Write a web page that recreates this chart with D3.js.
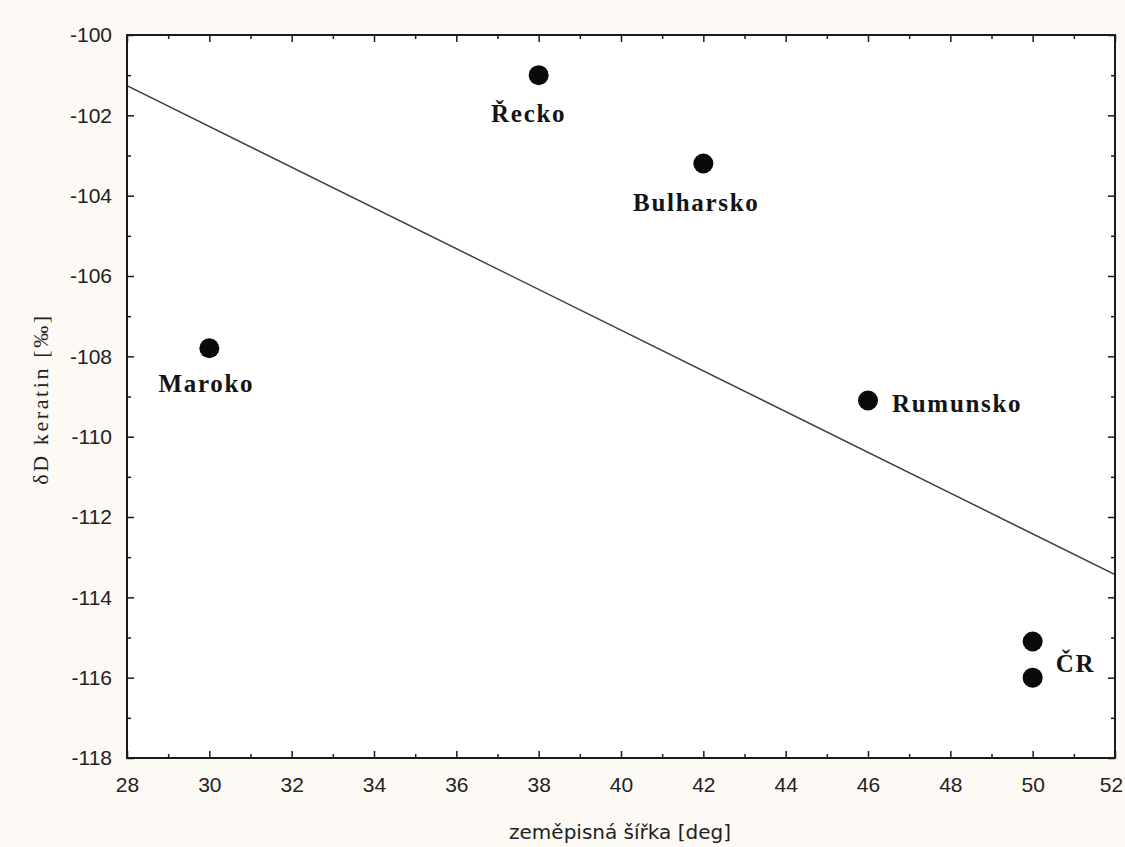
<!DOCTYPE html>
<html>
<head>
<meta charset="utf-8">
<script src="https://cdn.jsdelivr.net/npm/d3@7/dist/d3.min.js"></script>
<style>
  html, body { margin: 0; padding: 0; background: #fdf9f4; }
  svg { display: block; }
</style>
</head>
<body>
<svg id="chart" width="1125" height="847"></svg>
<script>
// Latitude vs. δD of keratin by country
const countries = ["Řecko", "Bulharsko", "Maroko", "Rumunsko", "ČR", "ČR"];
const latitude  = [38, 42, 30, 46, 50, 50];
const deltaD    = [-101.0, -103.2, -107.8, -109.1, -115.1, -116.0];

const xTicks = [28, 30, 32, 34, 36, 38, 40, 42, 44, 46, 48, 50, 52];
const yTicks = [-118, -116, -114, -112, -110, -108, -106, -104, -102, -100];
const xMinor = [29, 31, 33, 35, 37, 39, 41, 43, 45, 47, 49, 51];
const yMinor = [-117, -115, -113, -111, -109, -107, -105, -103, -101];

const svg = d3.select("#chart");
const W = 1125, H = 847;
const m = { left: 127, right: W - 1115, top: 35, bottom: H - 758 };

svg.append("rect").attr("width", W).attr("height", H).attr("fill", "#fdf9f4");

const x = d3.scaleLinear().domain([28, 52]).range([m.left, W - m.right]);
const y = d3.scaleLinear().domain([-118, -100]).range([H - m.bottom, m.top]);

// plot area
svg.append("rect")
  .attr("x", x(28)).attr("y", y(-100))
  .attr("width", x(52) - x(28)).attr("height", y(-118) - y(-100))
  .attr("fill", "#ffffff");

// least-squares fit line
const mx = d3.mean(latitude), my = d3.mean(deltaD);
const sxy = d3.sum(latitude, (v, i) => (v - mx) * (deltaD[i] - my));
const sxx = d3.sum(latitude, v => (v - mx) * (v - mx));
const slope = sxy / sxx, icpt = my - slope * mx;
const fit = [28, 52].map(v => [v, icpt + slope * v]);

svg.append("clipPath").attr("id", "plotclip")
  .append("rect")
  .attr("x", x(28)).attr("y", y(-100))
  .attr("width", x(52) - x(28)).attr("height", y(-118) - y(-100));

svg.append("path")
  .datum(fit)
  .attr("clip-path", "url(#plotclip)")
  .attr("d", d3.line().x(d => x(d[0])).y(d => y(d[1])))
  .attr("fill", "none")
  .attr("stroke", "#4b3a40")
  .attr("stroke-width", 1.5);

// axes: ticks point inward, labels on left/bottom only
const tickLen = 7, minorLen = 4;
const font = "'Liberation Sans', Arial, sans-serif";
const plain = d => String(d);

function styleAxis(g) {
  g.select(".domain").remove();
  g.selectAll(".tick line").attr("stroke", "#1a1a1a").attr("stroke-width", 1.5);
  g.selectAll(".tick text").attr("fill", "#222").style("font-family", font).style("font-size", "21px");
}

const xb = svg.append("g").attr("transform", `translate(0,${y(-118)})`)
  .call(d3.axisBottom(x).tickValues(xTicks).tickSizeInner(-tickLen).tickSizeOuter(0).tickPadding(19).tickFormat(plain));
styleAxis(xb);
// keep the last label inside the page
xb.selectAll(".tick text").filter(d => d === 52).attr("dx", -4);
const xbm = svg.append("g").attr("transform", `translate(0,${y(-118)})`)
  .call(d3.axisBottom(x).tickValues(xMinor).tickSizeInner(-minorLen).tickSizeOuter(0).tickFormat(""));
styleAxis(xbm);

const xt = svg.append("g").attr("transform", `translate(0,${y(-100)})`)
  .call(d3.axisTop(x).tickValues(xTicks).tickSizeInner(-tickLen).tickSizeOuter(0).tickFormat(""));
styleAxis(xt);
const xtm = svg.append("g").attr("transform", `translate(0,${y(-100)})`)
  .call(d3.axisTop(x).tickValues(xMinor).tickSizeInner(-minorLen).tickSizeOuter(0).tickFormat(""));
styleAxis(xtm);

const yl = svg.append("g").attr("transform", `translate(${x(28)},0)`)
  .call(d3.axisLeft(y).tickValues(yTicks).tickSizeInner(-tickLen).tickSizeOuter(0).tickPadding(15).tickFormat(plain));
styleAxis(yl);
const ylm = svg.append("g").attr("transform", `translate(${x(28)},0)`)
  .call(d3.axisLeft(y).tickValues(yMinor).tickSizeInner(-minorLen).tickSizeOuter(0).tickFormat(""));
styleAxis(ylm);

const yr = svg.append("g").attr("transform", `translate(${x(52)},0)`)
  .call(d3.axisRight(y).tickValues(yTicks).tickSizeInner(-tickLen).tickSizeOuter(0).tickFormat(""));
styleAxis(yr);
const yrm = svg.append("g").attr("transform", `translate(${x(52)},0)`)
  .call(d3.axisRight(y).tickValues(yMinor).tickSizeInner(-minorLen).tickSizeOuter(0).tickFormat(""));
styleAxis(yrm);

// frame
svg.append("rect")
  .attr("x", x(28)).attr("y", y(-100))
  .attr("width", x(52) - x(28)).attr("height", y(-118) - y(-100))
  .attr("fill", "none").attr("stroke", "#1a1a1a").attr("stroke-width", 2);

// points
svg.append("g").selectAll("circle")
  .data(latitude.map((v, i) => ({ lat: v, d: deltaD[i] })))
  .join("circle")
  .attr("cx", d => x(d.lat))
  .attr("cy", d => y(d.d))
  .attr("r", 10)
  .attr("fill", "#0a0a0a");

// point labels (dx, dy offsets relative to the point, in px)
const labelPos = [
  { i: 0, dx: -10, dy: 47, anchor: "middle" },
  { i: 1, dx: -7,  dy: 47, anchor: "middle" },
  { i: 2, dx: -3,  dy: 44, anchor: "middle" },
  { i: 3, dx: 24,  dy: 11, anchor: "start" },
  { i: 4, dx: 23,  dy: 30, anchor: "start" }
];
svg.append("g").selectAll("text")
  .data(labelPos)
  .join("text")
  .attr("x", d => x(latitude[d.i]) + d.dx)
  .attr("y", d => y(deltaD[d.i]) + d.dy)
  .attr("text-anchor", d => d.anchor)
  .style("font-family", "'Liberation Serif', 'Times New Roman', serif")
  .style("font-weight", "bold")
  .style("font-size", "25px")
  .style("letter-spacing", "1.7px")
  .attr("fill", "#141414")
  .text(d => countries[d.i]);

// axis titles
svg.append("text")
  .attr("x", (x(28) + x(52)) / 2 - 1)
  .attr("y", 839)
  .attr("text-anchor", "middle")
  .style("font-family", "'DejaVu Sans', Verdana, sans-serif")
  .style("font-size", "20px")
  .attr("fill", "#222")
  .text("zeměpisná šířka [deg]");

svg.append("text")
  .attr("transform", `translate(48,${399}) rotate(-90)`)
  .attr("text-anchor", "middle")
  .style("font-family", "'Liberation Serif', 'Times New Roman', serif")
  .style("font-size", "22px")
  .style("letter-spacing", "2.6px")
  .attr("fill", "#222")
  .text("δD keratin [‰]");
</script>
</body>
</html>
